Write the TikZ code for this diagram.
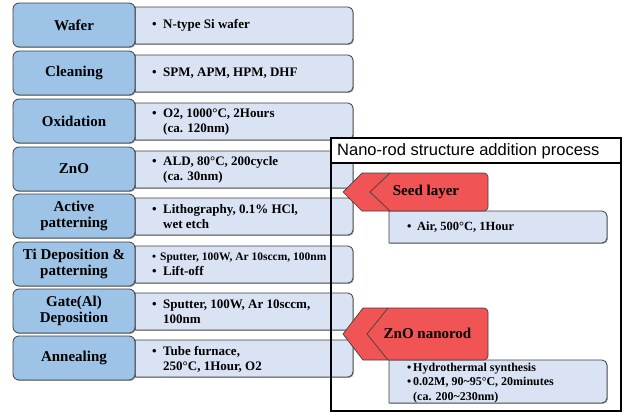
\documentclass[tikz,border=0pt]{standalone}
\usepackage{fontspec}
\setmainfont{Liberation Serif}
\newfontfamily\titlefont{Liberation Sans}
\usetikzlibrary{shadows}
\definecolor{lblue}{HTML}{9DC3E6}
\definecolor{pblue}{HTML}{DAE3F3}
\definecolor{rred}{HTML}{F05454}
\definecolor{edgec}{HTML}{404040}
\newcommand\bul[1]{\makebox[#1][l]{\textbullet}}
\newcommand\rboxpath[4]{% x1 top x2 bottom
  \draw[rbox] (#1,#2) -- ({#3-5},#2) arc(90:0:5pt) -- (#3,{#4-5}) arc(0:-90:5pt) -- (#1,#4) -- cycle;}
\begin{document}
\begin{tikzpicture}[x=1pt,y=-1pt,
  softshadow/.style={drop shadow={shadow xshift=0.9pt, shadow yshift=-0.9pt, opacity=0.35, fill=black}},
  lbox/.style={draw=edgec, fill=lblue, line width=0.8pt, rounded corners=6pt, softshadow},
  rbox/.style={draw=edgec, fill=pblue, line width=0.8pt, softshadow},
  lab/.style={font=\fontsize{15}{16}\selectfont\bfseries, align=center, inner sep=0pt},
  txt/.style={font=\fontsize{13}{15}\selectfont\bfseries, align=left, anchor=west, inner sep=0pt},
  subtxt/.style={font=\fontsize{12.5}{14.5}\selectfont\bfseries, align=left, anchor=west, inner sep=0pt},
  redarr/.style={draw=edgec, fill=rred, line width=0.7pt},
  chev/.style={draw=edgec, line width=0.7pt},
  panel/.style={draw=black, line width=1.8pt}]
\useasboundingbox (0,0) rectangle (625,413);

% right (detail) boxes, drawn first
\rboxpath{135}{7}{353}{44}
\rboxpath{135}{55}{353}{92}
\rboxpath{135}{103}{353}{140}
\rboxpath{135}{151}{353}{188}
\rboxpath{135}{198}{353}{235}
\rboxpath{135}{246}{353}{283}
\rboxpath{135}{293}{353}{330}
\rboxpath{135}{340}{353}{377}

% left step boxes
\draw[lbox] (13,3) rectangle (135,47);
\draw[lbox] (13,51) rectangle (135,95);
\draw[lbox] (13,99) rectangle (135,143);
\draw[lbox] (13,147) rectangle (135,191);
\draw[lbox] (13,194) rectangle (135,238);
\draw[lbox] (13,242) rectangle (135,286);
\draw[lbox] (13,289) rectangle (135,333);
\draw[lbox] (13,336) rectangle (135,380);

\node[lab] (l1) at (74,25) {Wafer};
\node[lab] (l2) at (74,73) {Cleaning};
\node[lab] (l3) at (74,121) {Oxidation};
\node[lab] (l4) at (74,169) {ZnO};
\node[lab] (l5) at (74,216) {Active\\patterning};
\node[lab] (l6) at (74,264) {Ti Deposition \&\\patterning};
\node[lab] (l7) at (74,311) {Gate(Al)\\Deposition};
\node[lab] (l8) at (74,358) {Annealing};

\node[txt] (t1) at (152,25.5) {\bul{11pt}N-type Si wafer};
\node[txt] (t2) at (152,73.5) {\bul{11pt}SPM, APM, HPM, DHF};
\node[txt] (t3) at (152,122) {\bul{11pt}O2, 1000°C, 2Hours\\\hspace*{11pt}(ca. 120nm)};
\node[txt] (t4) at (152,169.5) {\bul{11pt}ALD, 80°C, 200cycle\\\hspace*{11pt}(ca. 30nm)};
\node[txt] (t5) at (152,216.5) {\bul{11pt}Lithography, 0.1\% HCl,\\\hspace*{11pt}wet etch};
\node[txt] (t6) at (152,264) {{\fontsize{11.5}{14}\selectfont\bul{8pt}Sputter, 100W, Ar 10sccm, 100nm}\\\bul{11pt}Lift-off};
\node[txt] (t7) at (152,311.5) {\bul{11pt}Sputter, 100W, Ar 10sccm,\\\hspace*{11pt}100nm};
\node[txt] (t8) at (152,359.5) {\bul{11pt}Tube furnace,\\\hspace*{11pt}250°C, 1Hour, O2};

% nano-rod panel
\fill[white] (331,138) rectangle (621,163);
\draw[panel] (331,138) rectangle (621,411);
\draw[panel] (331,163) -- (621,163);
\node[anchor=west, inner sep=0pt, font=\titlefont\fontsize{16.5}{18}\selectfont] (title) at (337,151) {Nano-rod structure addition process};

% sub boxes
\rboxpath{389}{211}{607}{243}
\rboxpath{389}{360}{607}{403}
\node[subtxt] (s1) at (407,227) {\bul{10pt}Air, 500°C, 1Hour};
\node[subtxt, font=\fontsize{12}{14.5}\selectfont\bfseries] (s2) at (407,383) {\bul{6pt}Hydrothermal synthesis\\\bul{6pt}0.02M, 90\char"7E 95°C, 20minutes\\\hspace*{6pt}(ca. 200\char"7E 230nm)};

% red arrows
\draw[redarr] (343,192) -- (362,173) -- (484,173) arc(90:0:4pt) -- (488,207) arc(0:-90:4pt) -- (362,211) -- cycle;
\draw[chev] (390,173) -- (370,192) -- (390,211);
\node[lab] (a1) at (426,192) {Seed layer};
\draw[redarr] (343,334) -- (363,308) -- (484,308) arc(90:0:4pt) -- (488,356) arc(0:-90:4pt) -- (363,360) -- cycle;
\draw[chev] (388,308) -- (367,334) -- (388,360);
\node[lab] (a2) at (427.5,333) {ZnO nanorod};
\end{tikzpicture}
\end{document}
